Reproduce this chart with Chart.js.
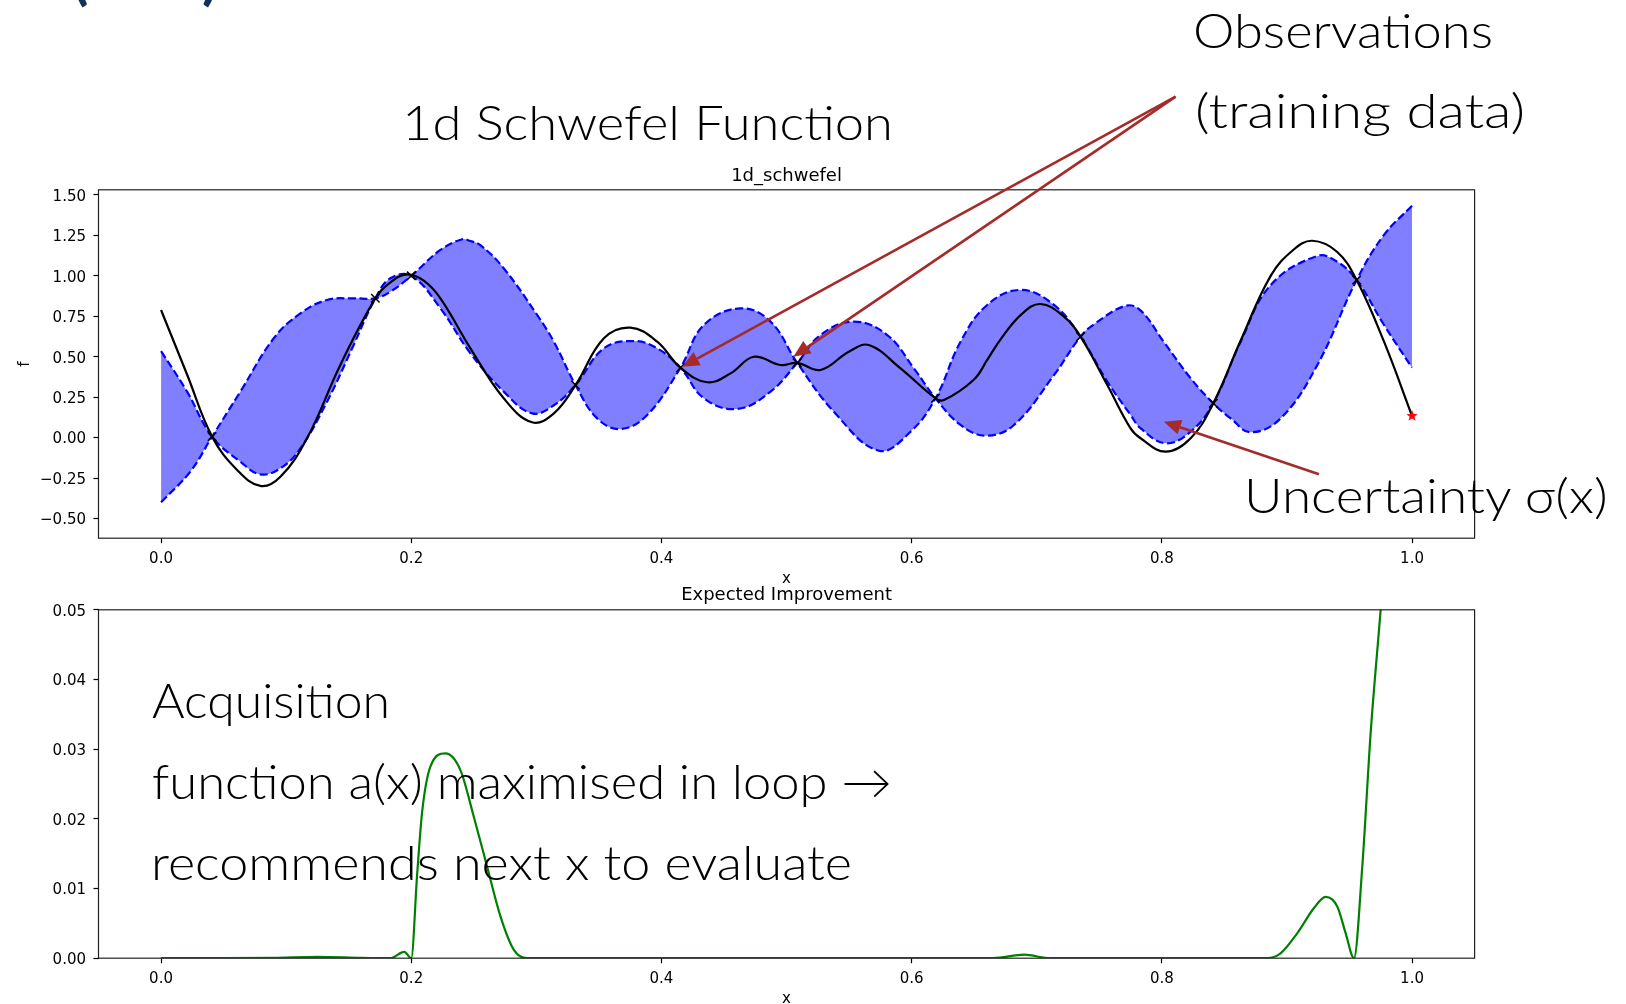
<!DOCTYPE html>
<html>
<head>
<meta charset="utf-8">
<script src="https://cdn.jsdelivr.net/npm/chart.js@4.4.1/dist/chart.umd.min.js"></script>
<style>
  html, body { margin: 0; padding: 0; background: #fff; width: 1626px; height: 1004px; overflow: hidden; position: relative; }
  canvas { position: absolute; left: 0; }
  #gp { top: 0; }
  #ei { top: 580px; }
  .note { position: absolute; white-space: nowrap; line-height: 1; transform-origin: 0 0; margin: 0; }
</style>
</head>
<body>
<canvas id="gp" width="1626" height="600"></canvas>
<canvas id="ei" width="1626" height="440"></canvas>
<div id="notes"></div>
<script>
// ---- 1d Schwefel: true function f(x) ----
const fX = [0, 0.0208, 0.0408, 0.0608, 0.0794, 0.0954, 0.1167, 0.1433, 0.1713, 0.1833, 0.1967, 0.21, 0.2233, 0.2473, 0.2739, 0.2966, 0.314, 0.3313, 0.354, 0.3752, 0.3966, 0.4152, 0.4366, 0.4552, 0.4738, 0.4952, 0.5085, 0.5271, 0.5498, 0.5658, 0.5911, 0.6191, 0.6258, 0.6497, 0.6604, 0.6711, 0.6875, 0.703, 0.7217, 0.735, 0.7564, 0.775, 0.783, 0.803, 0.823, 0.8411, 0.863, 0.887, 0.905, 0.9203, 0.94, 0.9557, 0.9776, 1.0];
const fY = [0.789, 0.39, 0.006, -0.2, -0.299, -0.242, -0.004, 0.449, 0.861, 0.96, 1.009, 0.97, 0.861, 0.552, 0.243, 0.0945, 0.15, 0.325, 0.614, 0.68, 0.593, 0.432, 0.342, 0.397, 0.5, 0.449, 0.462, 0.418, 0.531, 0.572, 0.428, 0.243, 0.232, 0.358, 0.48, 0.607, 0.76, 0.826, 0.748, 0.624, 0.325, 0.057, -0.004, -0.087, -0.004, 0.212, 0.6, 1.0, 1.16, 1.217, 1.149, 0.974, 0.593, 0.134];

// ---- GP confidence band: the two dashed edges (they cross at every observation) ----
const edgeAX = [0, 0.0208, 0.0408, 0.0634, 0.0794, 0.0954, 0.1114, 0.1327, 0.154, 0.1713, 0.1833, 0.2, 0.2233, 0.2473, 0.2739, 0.2966, 0.314, 0.3313, 0.354, 0.3779, 0.3966, 0.4152, 0.4339, 0.4605, 0.4872, 0.5085, 0.5271, 0.5538, 0.5805, 0.6018, 0.6191, 0.6391, 0.6591, 0.6818, 0.7138, 0.735, 0.7457, 0.771, 0.7831, 0.8017, 0.823, 0.8411, 0.855, 0.871, 0.895, 0.9243, 0.9557, 0.9776, 1.0];
const edgeAY = [0.535, 0.284, 0.006, -0.149, -0.227, -0.19, -0.066, 0.222, 0.573, 0.861, 0.985, 1.0, 0.799, 0.521, 0.284, 0.15, 0.2, 0.325, 0.552, 0.597, 0.552, 0.432, 0.243, 0.177, 0.284, 0.462, 0.634, 0.717, 0.634, 0.428, 0.243, 0.078, 0.012, 0.078, 0.387, 0.624, 0.70, 0.815, 0.785, 0.59, 0.367, 0.212, 0.119, 0.033, 0.119, 0.449, 0.974, 1.253, 1.434];
const edgeBX = [0, 0.0234, 0.0408, 0.0634, 0.0901, 0.1114, 0.1327, 0.154, 0.1713, 0.1833, 0.2, 0.2233, 0.2407, 0.2473, 0.2553, 0.2739, 0.3006, 0.314, 0.3313, 0.3486, 0.3672, 0.3886, 0.4152, 0.4339, 0.4632, 0.4872, 0.5085, 0.5378, 0.5738, 0.5991, 0.6191, 0.6391, 0.6604, 0.6871, 0.7138, 0.735, 0.7564, 0.775, 0.7831, 0.803, 0.823, 0.8411, 0.863, 0.887, 0.9243, 0.94, 0.9557, 0.9776, 1.0];
const edgeBY = [-0.4, -0.21, 0.006, 0.284, 0.614, 0.768, 0.851, 0.861, 0.861, 0.902, 1.0, 1.16, 1.226, 1.215, 1.19, 1.047, 0.758, 0.593, 0.325, 0.119, 0.053, 0.14, 0.432, 0.696, 0.799, 0.717, 0.462, 0.16, -0.081, 0.0365, 0.243, 0.593, 0.82, 0.913, 0.82, 0.624, 0.346, 0.14, 0.057, -0.035, 0.037, 0.212, 0.593, 0.943, 1.123, 1.088, 0.974, 0.696, 0.432];

// ---- observations (training data) and the next evaluated point ----
const obsX = [0.0408, 0.1713, 0.2, 0.3313, 0.4152, 0.5085, 0.6191, 0.735, 0.8411, 0.9557];
const obsY = [0.006, 0.861, 1.0, 0.325, 0.432, 0.462, 0.243, 0.624, 0.212, 0.974];
const nextX = [1.0];
const nextY = [0.134];

// ---- expected improvement a(x) ----
const eiX = [0, 0.05, 0.09, 0.125, 0.16, 0.183, 0.1945, 0.2, 0.2047, 0.2087, 0.2153, 0.2273, 0.2393, 0.25, 0.2607, 0.2713, 0.282, 0.2926, 0.4, 0.6, 0.665, 0.69, 0.711, 0.8, 0.8843, 0.8949, 0.9083, 0.9216, 0.9309, 0.9403, 0.9469, 0.9536, 0.9602, 0.9669, 0.9749, 0.99, 1.0];
const eiY = [0, 0, 0.00005, 0.0002, 0.00005, 0, 0.0009, 0, 0.012, 0.021, 0.0275, 0.0294, 0.027, 0.0203, 0.0131, 0.006, 0.0012, 0, 0, 0, 0, 0.0005, 0, 0, 0, 0.0007, 0.0036, 0.0072, 0.0088, 0.0074, 0.0036, 0, 0.0131, 0.0323, 0.05, 0.085, 0.108];

// ---- tick values ----
const xTicks = [0.0, 0.2, 0.4, 0.6, 0.8, 1.0];
const fTicks = [-0.5, -0.25, 0, 0.25, 0.5, 0.75, 1.0, 1.25, 1.5];
const eiTicks = [0, 0.01, 0.02, 0.03, 0.04, 0.05];

// ---- callout arrows, in data units of the upper plot ----
const arrowFrom = [[0.811, 2.108], [0.811, 2.108], [0.9256, -0.227]];
const arrowTo = [[0.4166, 0.438], [0.5055, 0.50], [0.8016, 0.098]];

const pts = (xs, ys) => xs.map((x, i) => ({ x: x, y: ys[i] }));
const TICK_FONT = { family: 'DejaVu Sans', size: 15 };

function makeStar(r, color) {
  const c = document.createElement('canvas');
  const s = Math.ceil(r * 2 + 2);
  c.width = s; c.height = s;
  const g = c.getContext('2d');
  g.fillStyle = color;
  g.beginPath();
  for (let i = 0; i < 10; i++) {
    const a = -Math.PI / 2 + i * Math.PI / 5;
    const rr = i % 2 ? r * 0.42 : r;
    g.lineTo(s / 2 + rr * Math.cos(a), s / 2 + rr * Math.sin(a));
  }
  g.closePath();
  g.fill();
  return c;
}

// full box round the plotting area, like the four spines of an axes
const framePlugin = {
  id: 'frame',
  afterDatasetsDraw(chart) {
    const { ctx, chartArea: a } = chart;
    ctx.save();
    ctx.strokeStyle = '#222';
    ctx.lineWidth = 1.2;
    ctx.strokeRect(a.left, a.top, a.right - a.left, a.bottom - a.top);
    ctx.restore();
  }
};

// axes title centred over the plotting area
const axesTitlePlugin = {
  id: 'axesTitle',
  afterDraw(chart, args, opts) {
    const { ctx, chartArea: a } = chart;
    ctx.save();
    ctx.font = '18px "DejaVu Sans"';
    ctx.fillStyle = '#000';
    ctx.textAlign = 'center';
    ctx.textBaseline = 'alphabetic';
    ctx.fillText(opts.text, (a.left + a.right) / 2, a.top - opts.gap);
    ctx.restore();
  }
};

const arrowPlugin = {
  id: 'callouts',
  afterDraw(chart) {
    const { ctx } = chart;
    const sx = chart.scales.x, sy = chart.scales.y;
    ctx.save();
    ctx.strokeStyle = '#a52a2a';
    ctx.fillStyle = '#a52a2a';
    ctx.lineWidth = 2.6;
    arrowFrom.forEach((p, i) => {
      const x0 = sx.getPixelForValue(p[0]), y0 = sy.getPixelForValue(p[1]);
      const x1 = sx.getPixelForValue(arrowTo[i][0]), y1 = sy.getPixelForValue(arrowTo[i][1]);
      const ang = Math.atan2(y1 - y0, x1 - x0);
      const hl = 17, hw = 7.5;
      const bx = x1 - hl * Math.cos(ang), by = y1 - hl * Math.sin(ang);
      ctx.beginPath(); ctx.moveTo(x0, y0); ctx.lineTo(bx, by); ctx.stroke();
      ctx.beginPath();
      ctx.moveTo(x1, y1);
      ctx.lineTo(bx + hw * Math.sin(ang), by - hw * Math.cos(ang));
      ctx.lineTo(bx - hw * Math.sin(ang), by + hw * Math.cos(ang));
      ctx.closePath(); ctx.fill();
    });
    ctx.restore();
  }
};

function xScale(height, titlePadBottom) {
  return {
    type: 'linear', min: -0.05, max: 1.05,
    afterBuildTicks: s => { s.ticks = xTicks.map(v => ({ value: v })); },
    afterFit: s => { s.height = height; },
    ticks: { font: TICK_FONT, color: '#000', padding: 6.5, maxRotation: 0, callback: v => v.toFixed(1) },
    grid: { drawOnChartArea: false, drawTicks: true, tickLength: 5, tickColor: '#000', tickWidth: 1.2 },
    border: { display: false },
    title: { display: true, text: 'x', font: TICK_FONT, color: '#000', padding: { top: 0, bottom: titlePadBottom } }
  };
}

const smooth = { cubicInterpolationMode: 'default', tension: 0.4 };

new Chart(document.getElementById('gp'), {
  type: 'line',
  data: {
    datasets: [
      Object.assign({ data: pts(edgeAX, edgeAY), borderColor: '#0000ff', borderWidth: 2.2, borderDash: [8, 3.5], pointRadius: 0, fill: false, order: 3 }, smooth),
      Object.assign({ data: pts(edgeBX, edgeBY), borderColor: '#0000ff', borderWidth: 2.2, borderDash: [8, 3.5], pointRadius: 0, fill: { target: 0 }, backgroundColor: 'rgba(0,0,255,0.5)', order: 2 }, smooth),
      Object.assign({ data: pts(fX, fY), borderColor: '#000', borderWidth: 2.2, pointRadius: 0, fill: false, order: 1 }, smooth),
      { data: pts(obsX, obsY), showLine: false, pointStyle: 'crossRot', pointRadius: 6, borderColor: '#000', borderWidth: 1.5, order: 0 },
      { data: pts(nextX, nextY), showLine: false, pointStyle: makeStar(6, '#ff0000'), order: 0 }
    ]
  },
  options: {
    responsive: false, animation: false, devicePixelRatio: 1, events: [],
    layout: { padding: { left: 0, right: 151.4, top: 189.8, bottom: 14 } },
    plugins: {
      legend: { display: false }, tooltip: { enabled: false }, title: { display: false },
      axesTitle: { text: '1d_schwefel', gap: 8.8 }
    },
    scales: {
      x: xScale(47.8, -2),
      y: {
        type: 'linear', min: -0.622, max: 1.532,
        afterBuildTicks: s => { s.ticks = fTicks.map(v => ({ value: v })); },
        afterFit: s => { s.width = 98.5; },
        ticks: { font: TICK_FONT, color: '#000', padding: 7.5, labelOffset: 2, callback: v => (v < 0 ? '\u2212' : '') + Math.abs(v).toFixed(2) },
        grid: { drawOnChartArea: false, drawTicks: true, tickLength: 5, tickColor: '#000', tickWidth: 1.2 },
        border: { display: false },
        title: { display: true, text: 'f', font: TICK_FONT, color: '#000', padding: { top: 16, bottom: 0 } }
      }
    }
  },
  plugins: [framePlugin, axesTitlePlugin, arrowPlugin]
});

new Chart(document.getElementById('ei'), {
  type: 'line',
  data: {
    datasets: [
      { data: pts(eiX, eiY), borderColor: '#008000', borderWidth: 2.2, pointRadius: 0, fill: false, cubicInterpolationMode: 'monotone' }
    ]
  },
  options: {
    responsive: false, animation: false, devicePixelRatio: 1, events: [],
    layout: { padding: { left: 0, right: 151.4, top: 29.8, bottom: 13.4 } },
    plugins: {
      legend: { display: false }, tooltip: { enabled: false }, title: { display: false },
      axesTitle: { text: 'Expected Improvement', gap: 10.3 }
    },
    scales: {
      x: xScale(48.4, -2),
      y: {
        type: 'linear', min: 0, max: 0.05,
        afterBuildTicks: s => { s.ticks = eiTicks.map(v => ({ value: v })); },
        afterFit: s => { s.width = 98.5; },
        ticks: { font: TICK_FONT, color: '#000', padding: 7.5, labelOffset: 2, callback: v => v.toFixed(2) },
        grid: { drawOnChartArea: false, drawTicks: true, tickLength: 5, tickColor: '#000', tickWidth: 1.2 },
        border: { display: false }
      }
    }
  },
  plugins: [framePlugin, axesTitlePlugin]
});

// ---- slide annotations (HTML text laid over the charts) ----
const notes = [
  { text: '1d Schwefel Function', left: 402, baseline: 140, width: 491 },
  { text: 'Observations', left: 1193, baseline: 48.5, width: 300 },
  { text: '(training data)', left: 1195, baseline: 128, width: 330 },
  { text: 'Uncertainty \u03c3(x)', left: 1244, baseline: 513.5, width: 365 },
  { text: 'Acquisition', left: 152, baseline: 718.5, width: 238 },
  { text: 'function a(x) maximised in loop \u2192', left: 151.5, baseline: 799.5, width: 740 },
  { text: 'recommends next x to evaluate', left: 150.5, baseline: 880.5, width: 701 },
  { text: '(', left: 72, baseline: -2, color: '#12305a', weight: 700, size: 60 },
  { text: ')', left: 202, baseline: -2, color: '#12305a', weight: 700, size: 60 }
];
const measure = document.createElement('canvas').getContext('2d');
const holder = document.getElementById('notes');
notes.forEach(n => {
  const size = n.size || 48;
  const weight = n.weight || 300;
  const family = "Lato, 'Open Sans', sans-serif";
  const font = weight + ' ' + size + 'px ' + family;
  measure.font = font;
  const m = measure.measureText(n.text);
  const asc = m.fontBoundingBoxAscent, desc = m.fontBoundingBoxDescent;
  const baseOff = (size - (asc + desc)) / 2 + asc;
  const d = document.createElement('div');
  d.className = 'note';
  d.textContent = n.text;
  d.style.font = font;
  d.style.lineHeight = size + 'px';
  d.style.color = n.color || '#000';
  d.style.left = n.left + 'px';
  d.style.top = (n.baseline - baseOff) + 'px';
  if (n.width) d.style.transform = 'scaleX(' + (n.width / m.width) + ')';
  holder.appendChild(d);
});
</script>
</body>
</html>
